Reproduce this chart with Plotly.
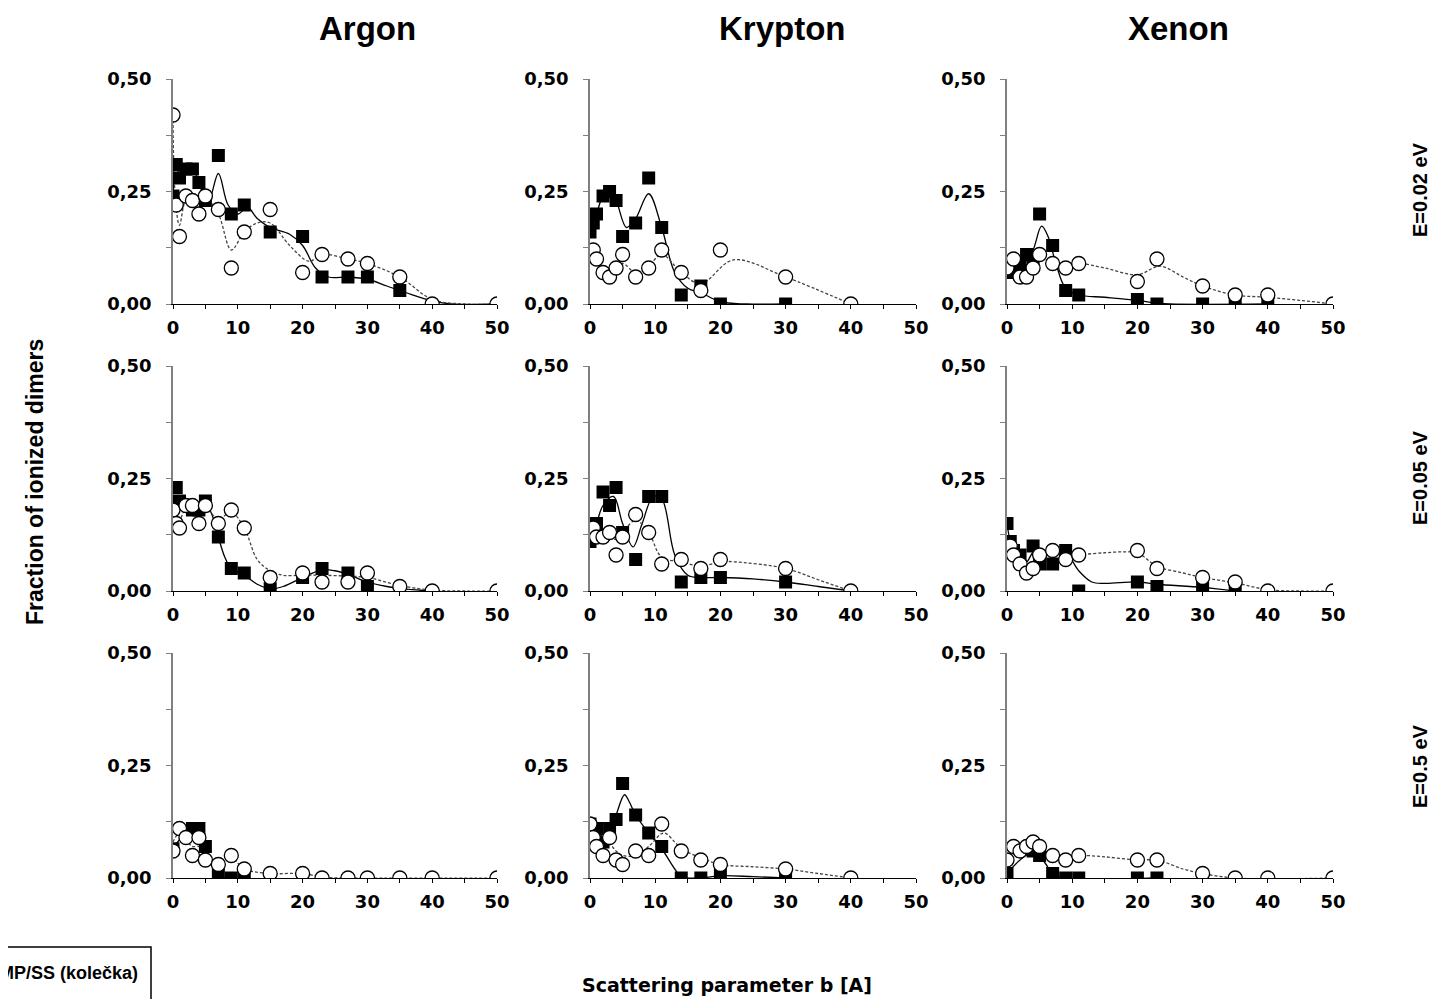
import plotly.graph_objects as go

# page offset (browser body margin) and figure size
OFF = 8
FW, FH = 1429, 991

# ---------------- data ----------------
col_titles = ["Argon", "Krypton", "Xenon"]
row_titles = ["E=0.02 eV", "E=0.05 eV", "E=0.5 eV"]
x_tickvals = [0, 5, 10, 15, 20, 25, 30, 35, 40, 45, 50]
x_ticktext = ["0", "", "10", "", "20", "", "30", "", "40", "", "50"]
y_tickvals = [0, 0.125, 0.25, 0.375, 0.5]
y_ticktext = ["0,00", "", "0,25", "", "0,50"]

# Argon, E=0.02 eV
A1_sq_x = [0, 0.5, 1, 2, 3, 4, 5, 7, 9, 11, 15, 20, 23, 27, 30, 35]
A1_sq_y = [0.24, 0.31, 0.28, 0.30, 0.30, 0.27, 0.23, 0.33, 0.20, 0.22, 0.16, 0.15, 0.06, 0.06, 0.06, 0.03]
A1_c_x = [0, 0.5, 1, 2, 3, 4, 5, 7, 9, 11, 15, 20, 23, 27, 30, 35, 40, 50]
A1_c_y = [0.42, 0.22, 0.15, 0.24, 0.23, 0.20, 0.24, 0.21, 0.08, 0.16, 0.21, 0.07, 0.11, 0.10, 0.09, 0.06, 0.0, 0.0]
A1_solid_x = [0, 0.5, 1.5, 3, 4.5, 5.5, 7, 8.5, 10, 11.5, 13, 15, 18, 20, 22, 24, 27, 30, 33, 36, 40, 43, 50]
A1_solid_y = [0.24, 0.29, 0.30, 0.30, 0.25, 0.23, 0.29, 0.22, 0.20, 0.215, 0.19, 0.17, 0.155, 0.13, 0.08, 0.06, 0.06, 0.055, 0.04, 0.025, 0.007, 0.0, 0.0]
A1_dash_x = [0, 0.3, 1, 2, 3, 5, 7, 9, 11, 13, 15, 18, 21, 23, 27, 30, 35, 40, 45, 50]
A1_dash_y = [0.42, 0.25, 0.175, 0.23, 0.23, 0.235, 0.20, 0.12, 0.16, 0.18, 0.18, 0.13, 0.095, 0.11, 0.10, 0.09, 0.06, 0.01, 0.0, 0.0]

# Krypton, E=0.02 eV
K1_sq_x = [0, 0.5, 1, 2, 3, 4, 5, 7, 9, 11, 14, 17, 20, 30]
K1_sq_y = [0.16, 0.18, 0.20, 0.24, 0.25, 0.23, 0.15, 0.18, 0.28, 0.17, 0.02, 0.04, 0.0, 0.0]
K1_c_x = [0.5, 1, 2, 3, 4, 5, 7, 9, 11, 14, 17, 20, 30, 40]
K1_c_y = [0.12, 0.10, 0.07, 0.06, 0.08, 0.11, 0.06, 0.08, 0.12, 0.07, 0.03, 0.12, 0.06, 0.0]
K1_solid_x = [0, 1, 2, 3, 4, 5.6, 7, 9, 11, 13, 15, 17, 20, 24, 30]
K1_solid_y = [0.16, 0.20, 0.24, 0.25, 0.23, 0.17, 0.19, 0.245, 0.17, 0.07, 0.035, 0.025, 0.005, 0.0, 0.0]
K1_dash_x = [0.5, 1, 2, 3, 4, 5, 7, 9, 11, 14, 17, 22, 30, 40]
K1_dash_y = [0.12, 0.10, 0.075, 0.068, 0.075, 0.09, 0.07, 0.085, 0.11, 0.07, 0.045, 0.098, 0.06, 0.0]

# Xenon, E=0.02 eV
X1_sq_x = [0, 1, 2, 3, 4, 5, 7, 9, 11, 20, 23, 30, 35, 40]
X1_sq_y = [0.07, 0.08, 0.09, 0.11, 0.10, 0.20, 0.13, 0.03, 0.02, 0.01, 0.0, 0.0, 0.0, 0.0]
X1_c_x = [0, 1, 2, 3, 4, 5, 7, 9, 11, 20, 23, 30, 35, 40, 50]
X1_c_y = [0.08, 0.10, 0.06, 0.06, 0.08, 0.11, 0.09, 0.08, 0.09, 0.05, 0.10, 0.04, 0.02, 0.02, 0.0]
X1_solid_x = [0, 2, 3, 4, 5.3, 6.3, 7.5, 9, 11, 15, 20, 23, 25, 40]
X1_solid_y = [0.07, 0.09, 0.10, 0.12, 0.173, 0.15, 0.09, 0.035, 0.02, 0.015, 0.008, 0.002, 0.0, 0.0]
X1_dash_x = [0, 1, 2, 3, 4, 5, 7, 9, 11, 15, 20, 23.5, 27, 30, 35, 40, 45, 50]
X1_dash_y = [0.08, 0.09, 0.07, 0.065, 0.08, 0.10, 0.095, 0.085, 0.09, 0.08, 0.065, 0.084, 0.06, 0.04, 0.02, 0.015, 0.008, 0.0]

# Argon, E=0.05 eV
A2_sq_x = [0.5, 1, 3, 4, 5, 7, 9, 11, 15, 20, 23, 27, 30]
A2_sq_y = [0.23, 0.20, 0.18, 0.18, 0.20, 0.12, 0.05, 0.04, 0.005, 0.03, 0.05, 0.04, 0.01]
A2_c_x = [0, 0.5, 1, 2, 3, 4, 5, 7, 9, 11, 15, 20, 23, 27, 30, 35, 40, 50]
A2_c_y = [0.18, 0.15, 0.14, 0.19, 0.19, 0.15, 0.19, 0.15, 0.18, 0.14, 0.03, 0.04, 0.02, 0.02, 0.04, 0.01, 0.0, 0.0]
A2_solid_x = [0, 1, 3, 4, 5, 6, 7, 8, 9, 11, 13, 15, 17, 20, 23, 25, 27, 30, 33, 36, 40]
A2_solid_y = [0.20, 0.20, 0.185, 0.185, 0.195, 0.17, 0.12, 0.075, 0.05, 0.035, 0.015, 0.005, 0.01, 0.03, 0.047, 0.045, 0.037, 0.02, 0.01, 0.004, 0.0]
A2_dash_x = [0, 1, 2, 3, 5, 7, 9, 11, 13, 15, 17, 20, 23, 27, 30, 35, 40, 45, 50]
A2_dash_y = [0.17, 0.16, 0.185, 0.19, 0.185, 0.16, 0.175, 0.14, 0.07, 0.045, 0.035, 0.035, 0.035, 0.033, 0.03, 0.012, 0.002, 0.0, 0.0]

# Krypton, E=0.05 eV
K2_sq_x = [0, 1, 2, 3, 4, 5, 7, 9, 11, 14, 17, 20, 30]
K2_sq_y = [0.11, 0.15, 0.22, 0.19, 0.23, 0.13, 0.07, 0.21, 0.21, 0.02, 0.03, 0.03, 0.02]
K2_c_x = [0.5, 1, 2, 3, 4, 5, 7, 9, 11, 14, 17, 20, 30, 40]
K2_c_y = [0.14, 0.12, 0.12, 0.13, 0.08, 0.12, 0.17, 0.13, 0.06, 0.07, 0.05, 0.07, 0.05, 0.0]
K2_solid_x = [0, 1, 2, 3.6, 5, 6.6, 8, 9.7, 11, 13, 15, 17, 20, 25, 30, 35, 40]
K2_solid_y = [0.11, 0.15, 0.19, 0.21, 0.15, 0.098, 0.15, 0.21, 0.205, 0.08, 0.035, 0.03, 0.03, 0.027, 0.02, 0.01, 0.0]
K2_dash_x = [0.5, 1, 2, 3, 4, 5, 7, 9, 11, 14, 17, 20, 22, 30, 35, 40]
K2_dash_y = [0.14, 0.13, 0.12, 0.12, 0.115, 0.13, 0.157, 0.13, 0.075, 0.065, 0.055, 0.065, 0.065, 0.05, 0.025, 0.0]

# Xenon, E=0.05 eV
X2_sq_x = [0, 0.5, 1, 2, 4, 5, 7, 9, 11, 20, 23, 30, 35]
X2_sq_y = [0.15, 0.11, 0.09, 0.08, 0.10, 0.06, 0.06, 0.09, 0.0, 0.02, 0.01, 0.01, 0.0]
X2_c_x = [0.5, 1, 2, 3, 4, 5, 7, 9, 11, 20, 23, 30, 35, 40, 50]
X2_c_y = [0.10, 0.08, 0.06, 0.04, 0.05, 0.08, 0.09, 0.07, 0.08, 0.09, 0.05, 0.03, 0.02, 0.0, 0.0]
X2_solid_x = [0, 0.5, 1, 2, 3, 4, 5, 7, 9, 11, 13, 15, 20, 23, 30, 35]
X2_solid_y = [0.15, 0.11, 0.09, 0.08, 0.065, 0.085, 0.075, 0.085, 0.085, 0.045, 0.02, 0.017, 0.02, 0.015, 0.008, 0.0]
X2_dash_x = [0.5, 1, 2, 3, 4, 5, 7, 9, 11, 15, 18, 20, 23, 27, 30, 35, 40, 45, 50]
X2_dash_y = [0.10, 0.08, 0.06, 0.045, 0.055, 0.075, 0.085, 0.075, 0.08, 0.085, 0.087, 0.085, 0.055, 0.04, 0.03, 0.018, 0.003, 0.0, 0.0]

# Argon, E=0.5 eV
A3_sq_x = [0, 3, 4, 5, 7, 9, 11]
A3_sq_y = [0.065, 0.11, 0.11, 0.07, 0.01, 0.0, 0.0]
A3_c_x = [0, 1, 2, 3, 4, 5, 7, 9, 11, 15, 20, 23, 27, 30, 35, 40, 50]
A3_c_y = [0.06, 0.11, 0.09, 0.05, 0.09, 0.04, 0.03, 0.05, 0.02, 0.01, 0.01, 0.0, 0.0, 0.0, 0.0, 0.0, 0.0]
A3_solid_x = [0, 1, 2, 3, 4, 5, 6, 7, 8, 11]
A3_solid_y = [0.065, 0.085, 0.10, 0.11, 0.105, 0.07, 0.035, 0.01, 0.0, 0.0]
A3_dash_x = [0, 1, 2, 3, 4, 5, 7, 9, 11, 15, 20, 23, 27, 50]
A3_dash_y = [0.08, 0.10, 0.085, 0.07, 0.07, 0.05, 0.035, 0.045, 0.02, 0.01, 0.01, 0.002, 0.0, 0.0]

# Krypton, E=0.5 eV
K3_sq_x = [0, 1, 2, 3, 4, 5, 7, 9, 11, 14, 17, 20, 30]
K3_sq_y = [0.12, 0.11, 0.08, 0.11, 0.13, 0.21, 0.14, 0.10, 0.07, 0.0, 0.0, 0.01, 0.0]
K3_c_x = [0, 0.5, 1, 2, 3, 4, 5, 7, 9, 11, 14, 17, 20, 30, 40]
K3_c_y = [0.12, 0.09, 0.07, 0.05, 0.09, 0.04, 0.03, 0.06, 0.05, 0.12, 0.06, 0.04, 0.03, 0.02, 0.0]
K3_solid_x = [0, 1, 2, 3, 4, 5.3, 6, 7, 9, 11, 13, 14, 17, 20, 25, 30]
K3_solid_y = [0.12, 0.11, 0.09, 0.10, 0.14, 0.185, 0.17, 0.14, 0.10, 0.065, 0.02, 0.003, 0.0, 0.005, 0.003, 0.0]
K3_dash_x = [0, 0.5, 1, 2, 3, 4, 5, 7, 9, 11.3, 13, 14, 17, 20, 25, 30, 35, 40]
K3_dash_y = [0.12, 0.10, 0.085, 0.075, 0.075, 0.06, 0.05, 0.05, 0.07, 0.10, 0.08, 0.065, 0.045, 0.03, 0.025, 0.02, 0.01, 0.0]

# Xenon, E=0.5 eV
X3_sq_x = [0, 4, 5, 7, 9, 11, 20, 23]
X3_sq_y = [0.01, 0.06, 0.05, 0.01, 0.0, 0.0, 0.0, 0.0]
X3_c_x = [0, 1, 2, 3, 4, 5, 7, 9, 11, 20, 23, 30, 35, 40, 50]
X3_c_y = [0.04, 0.07, 0.06, 0.07, 0.08, 0.07, 0.05, 0.04, 0.05, 0.04, 0.04, 0.01, 0.0, 0.0, 0.0]
X3_solid_x = [0, 2, 4, 5, 6, 7, 9, 23]
X3_solid_y = [0.01, 0.04, 0.058, 0.05, 0.03, 0.01, 0.0, 0.0]
X3_dash_x = [0, 1, 2, 3, 4, 5, 7, 9, 11, 15, 20, 23, 27, 30, 35, 50]
X3_dash_y = [0.04, 0.065, 0.06, 0.07, 0.08, 0.07, 0.05, 0.045, 0.05, 0.047, 0.04, 0.04, 0.02, 0.01, 0.0, 0.0]

panels = [
    [(A1_sq_x, A1_sq_y, A1_c_x, A1_c_y, A1_solid_x, A1_solid_y, A1_dash_x, A1_dash_y),
     (K1_sq_x, K1_sq_y, K1_c_x, K1_c_y, K1_solid_x, K1_solid_y, K1_dash_x, K1_dash_y),
     (X1_sq_x, X1_sq_y, X1_c_x, X1_c_y, X1_solid_x, X1_solid_y, X1_dash_x, X1_dash_y)],
    [(A2_sq_x, A2_sq_y, A2_c_x, A2_c_y, A2_solid_x, A2_solid_y, A2_dash_x, A2_dash_y),
     (K2_sq_x, K2_sq_y, K2_c_x, K2_c_y, K2_solid_x, K2_solid_y, K2_dash_x, K2_dash_y),
     (X2_sq_x, X2_sq_y, X2_c_x, X2_c_y, X2_solid_x, X2_solid_y, X2_dash_x, X2_dash_y)],
    [(A3_sq_x, A3_sq_y, A3_c_x, A3_c_y, A3_solid_x, A3_solid_y, A3_dash_x, A3_dash_y),
     (K3_sq_x, K3_sq_y, K3_c_x, K3_c_y, K3_solid_x, K3_solid_y, K3_dash_x, K3_dash_y),
     (X3_sq_x, X3_sq_y, X3_c_x, X3_c_y, X3_solid_x, X3_solid_y, X3_dash_x, X3_dash_y)],
]

# ---------------- layout geometry (screen pixels) ----------------
col_px = [(173, 497), (590, 916), (1007, 1333)]
row_px = [(79, 304), (366, 591), (653, 878)]


def px_x(p):
    return (p - OFF) / FW


def px_y(p):
    return 1 - (p - OFF) / FH


TICK_FONT = dict(family="DejaVu Sans, Arial, sans-serif", size=18, color="black", weight="bold")
TXT = "Liberation Sans, Arial, sans-serif"

fig = go.Figure()
layout = dict(
    width=FW, height=FH,
    margin=dict(l=0, r=0, t=0, b=0),
    paper_bgcolor="white", plot_bgcolor="white",
    showlegend=False,
)

for r in range(3):
    for c in range(3):
        k = r * 3 + c + 1
        xa = "x" if k == 1 else f"x{k}"
        ya = "y" if k == 1 else f"y{k}"
        sx, sy, cx, cy, lx, ly, dx, dy = panels[r][c]
        fig.add_trace(go.Scatter(x=lx, y=ly, mode="lines", line=dict(color="black", width=1.3, shape="spline", smoothing=1.0),
                                 xaxis=xa, yaxis=ya, hoverinfo="skip"))
        fig.add_trace(go.Scatter(x=dx, y=dy, mode="lines", line=dict(color="#444444", width=1.3, dash="3px,2px", shape="spline", smoothing=1.0),
                                 xaxis=xa, yaxis=ya, hoverinfo="skip"))
        fig.add_trace(go.Scatter(x=sx, y=sy, mode="markers", marker=dict(symbol="square", size=13, color="black", line=dict(width=0)),
                                 xaxis=xa, yaxis=ya))
        fig.add_trace(go.Scatter(x=cx, y=cy, mode="markers", marker=dict(symbol="circle", size=14, color="white", line=dict(width=1.3, color="black")),
                                 xaxis=xa, yaxis=ya))
        x0, x1 = col_px[c]
        y0, y1 = row_px[r]
        xkey = "xaxis" if k == 1 else f"xaxis{k}"
        ykey = "yaxis" if k == 1 else f"yaxis{k}"
        layout[xkey] = dict(domain=[px_x(x0), px_x(x1)], anchor=ya, range=[0, 50], tickmode="array",
                            tickvals=x_tickvals, ticktext=x_ticktext, ticks="outside", ticklen=4, tickwidth=1,
                            tickcolor="black", showline=True, linecolor="black", linewidth=1.3,
                            showgrid=False, zeroline=False, tickfont=TICK_FONT, ticklabelstandoff=3,
                            automargin=False, fixedrange=True)
        layout[ykey] = dict(domain=[px_y(y1), px_y(y0)], anchor=xa, range=[0, 0.5], tickmode="array",
                            tickvals=y_tickvals, ticktext=y_ticktext, ticks="outside", ticklen=5, tickwidth=1,
                            tickcolor="#808080", showline=True, linecolor="#808080", linewidth=1.5,
                            showgrid=False, zeroline=False, tickfont=TICK_FONT, ticklabelstandoff=11,
                            automargin=False, fixedrange=True)

annotations = []
title_x = [367, 782, 1178]
for c, t in enumerate(col_titles):
    annotations.append(dict(text=t, x=px_x(title_x[c]), y=px_y(28), xref="paper", yref="paper",
                            showarrow=False, xanchor="center", yanchor="middle",
                            font=dict(family=TXT, size=33, color="black", weight="bold")))
row_label_y = [190, 478, 766]
for r, t in enumerate(row_titles):
    annotations.append(dict(text=t, x=px_x(1420), y=px_y(row_label_y[r]), xref="paper", yref="paper",
                            showarrow=False, textangle=-90, xanchor="center", yanchor="middle",
                            font=dict(family=TXT, size=20, color="black", weight="bold")))
annotations.append(dict(text="Fraction of ionized dimers", x=px_x(35), y=px_y(482), xref="paper", yref="paper",
                        showarrow=False, textangle=-90, xanchor="center", yanchor="middle",
                        font=dict(family=TXT, size=23, color="black", weight="bold")))
annotations.append(dict(text="Scattering parameter b [A]", x=px_x(727), y=px_y(985), xref="paper", yref="paper",
                        showarrow=False, xanchor="center", yanchor="middle",
                        font=dict(family="DejaVu Sans, Arial, sans-serif", size=19, color="black", weight="bold")))
annotations.append(dict(text="MP/SS (kolečka)", x=px_x(140), y=px_y(973), xref="paper", yref="paper",
                        showarrow=False, xanchor="right", yanchor="middle",
                        font=dict(family=TXT, size=18, color="black", weight="bold")))
layout["annotations"] = annotations
layout["shapes"] = [dict(type="rect", xref="paper", yref="paper", x0=px_x(-10), x1=px_x(151),
                         y0=px_y(1015), y1=px_y(947), line=dict(color="black", width=1.5), fillcolor="rgba(0,0,0,0)")]

fig.update_layout(**layout)
fig.write_html("out.html")
